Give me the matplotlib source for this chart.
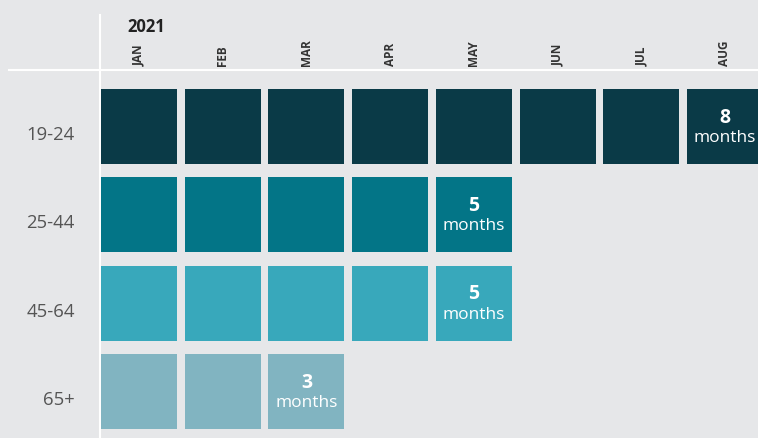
import matplotlib.pyplot as plt
from matplotlib.patches import Rectangle

plt.rcParams['font.family'] = ['Open Sans', 'DejaVu Sans']

months = ["JAN", "FEB", "MAR", "APR", "MAY", "JUN", "JUL", "AUG"]
ages = ["19-24", "25-44", "45-64", "65+"]
n_months = [8, 5, 5, 3]
colors = ["#0a3a47", "#037587", "#38a8bb", "#81b4c1"]
year = "2021"

bg = "#e6e7e9"
fig = plt.figure(figsize=(7.58, 4.39), dpi=100)
fig.patch.set_facecolor(bg)
ax = fig.add_axes([0, 0, 1, 1])
ax.set_facecolor(bg)
ax.set_xlim(-1.661, 7.395)
ax.set_ylim(3.528, -1.444)
ax.axis("off")

cw, ch = 0.908, 0.85

# grid lines
ax.plot([-0.466, -0.466], [-1.263, 3.6], color="white", lw=1.5, zorder=1)
ax.plot([-1.553, 7.5], [-0.64, -0.64], color="white", lw=1.5, zorder=1)

ax.text(-0.143, -1.138, year, fontsize=12, fontweight="bold", color="#222222",
        ha="left", va="center")
for i, m in enumerate(months):
    ax.text(i, -0.696, m, fontsize=8.5, fontweight="bold", color="#333333",
            rotation=90, ha="center", va="bottom")

for r, (age, n, c) in enumerate(zip(ages, n_months, colors)):
    ax.text(-0.765, r + 0.085, age, fontsize=13.3, color="#555555",
            ha="right", va="center")
    for i in range(n):
        ax.add_patch(Rectangle((i - cw / 2, r - ch / 2), cw, ch,
                               facecolor=c, edgecolor="none", zorder=2))
    ax.text(n - 1, r - 0.11, str(n), fontsize=14, fontweight="bold",
            color="white", ha="center", va="center", zorder=3)
    ax.text(n - 1, r + 0.12, "months", fontsize=12.5, color="white",
            ha="center", va="center", zorder=3)

fig.savefig("out.png", dpi=100, facecolor=bg)
